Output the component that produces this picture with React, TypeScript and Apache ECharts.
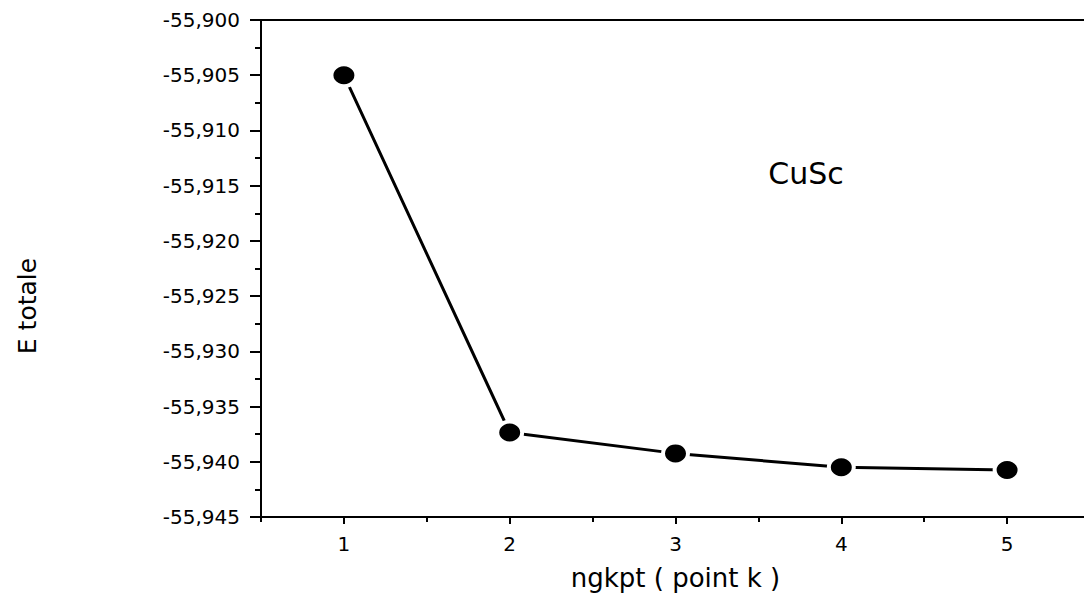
import React, { useEffect, useRef } from "react";
import * as echarts from "echarts";

const kPoints = [1, 2, 3, 4, 5];
const totalEnergy = [-55.905, -55.93735, -55.93924, -55.9405, -55.94075];
const xTickValues = [1, 2, 3, 4, 5];
const xHalfTicks = [0.5, 1.5, 2.5, 3.5, 4.5, 5.5];
const xName = "ngkpt ( point k )";
const yName = "E totale";
const annotation = "CuSc";

const FONT = "DejaVu Sans";

export default function App() {
  const ref = useRef<HTMLDivElement>(null);
  useEffect(() => {
    if (!ref.current) return;
    const chart = echarts.init(ref.current, null, { renderer: "svg" });
    const data = kPoints.map((k, i) => [k, totalEnergy[i]]);
    chart.setOption({
      animation: false,
      backgroundColor: "#ffffff",
      grid: { left: 261, top: 20, right: -6, bottom: 85, outerBoundsMode: "none" },
      xAxis: [
        {
          type: "value",
          min: 0.5,
          max: 5.5,
          position: "bottom",
          name: xName,
          nameLocation: "middle",
          nameGap: 48,
          nameTextStyle: { color: "#000", fontFamily: FONT, fontSize: 26 },
          axisLine: { show: true, onZero: false, lineStyle: { color: "#000", width: 2 } },
          axisTick: { show: true, customValues: xTickValues, length: 7, lineStyle: { color: "#000", width: 2 } },
          axisLabel: {
            show: true,
            customValues: xTickValues,
            margin: 17,
            color: "#000",
            fontFamily: FONT,
            fontSize: 20,
          },
          splitLine: { show: false },
        },
        {
          type: "value",
          min: 0.5,
          max: 5.5,
          position: "bottom",
          axisLine: { show: false },
          axisTick: { show: true, customValues: xHalfTicks, length: 5, lineStyle: { color: "#000", width: 2 } },
          axisLabel: { show: false },
          splitLine: { show: false },
        },
        {
          type: "value",
          min: 0.5,
          max: 5.5,
          position: "top",
          axisLine: { show: true, onZero: false, lineStyle: { color: "#000", width: 2 } },
          axisTick: { show: false },
          axisLabel: { show: false },
          splitLine: { show: false },
        },
      ],
      yAxis: [
        {
          type: "value",
          min: -55.945,
          max: -55.9,
          interval: 0.005,
          position: "left",
          axisLine: { show: true, onZero: false, lineStyle: { color: "#000", width: 2 } },
          axisTick: { show: true, length: 11, lineStyle: { color: "#000", width: 2 } },
          minorTick: { show: true, splitNumber: 2, length: 6, lineStyle: { color: "#000", width: 2 } },
          axisLabel: {
            margin: 21,
            color: "#000",
            fontFamily: FONT,
            fontSize: 20,
            formatter: (v: number) => v.toFixed(3).replace(".", ","),
          },
          splitLine: { show: false },
        },
      ],
      graphic: [
        {
          type: "text",
          x: 806,
          y: 173,
          style: {
            text: annotation,
            fill: "#000",
            font: `30px "${FONT}"`,
            textAlign: "center",
            textVerticalAlign: "middle",
          },
        },
        {
          type: "text",
          x: 27,
          y: 306,
          rotation: Math.PI / 2,
          style: {
            text: yName,
            fill: "#000",
            font: `25px "${FONT}"`,
            textAlign: "center",
            textVerticalAlign: "middle",
          },
        },
      ],
      series: [
        {
          type: "line",
          xAxisIndex: 0,
          data,
          lineStyle: { color: "#000", width: 3 },
          symbol: "circle",
          symbolSize: [29, 26],
          itemStyle: { color: "#fff", borderWidth: 0 },
          z: 2,
        },
        {
          type: "scatter",
          xAxisIndex: 0,
          data,
          symbol: "circle",
          symbolSize: [21, 18],
          itemStyle: { color: "#000", opacity: 1 },
          z: 3,
        },
      ],
    });
    return () => chart.dispose();
  }, []);
  return (
    <div
      ref={ref}
      style={{ position: "absolute", left: 0, top: 0, width: 1084, height: 602, overflow: "hidden" }}
    />
  );
}
